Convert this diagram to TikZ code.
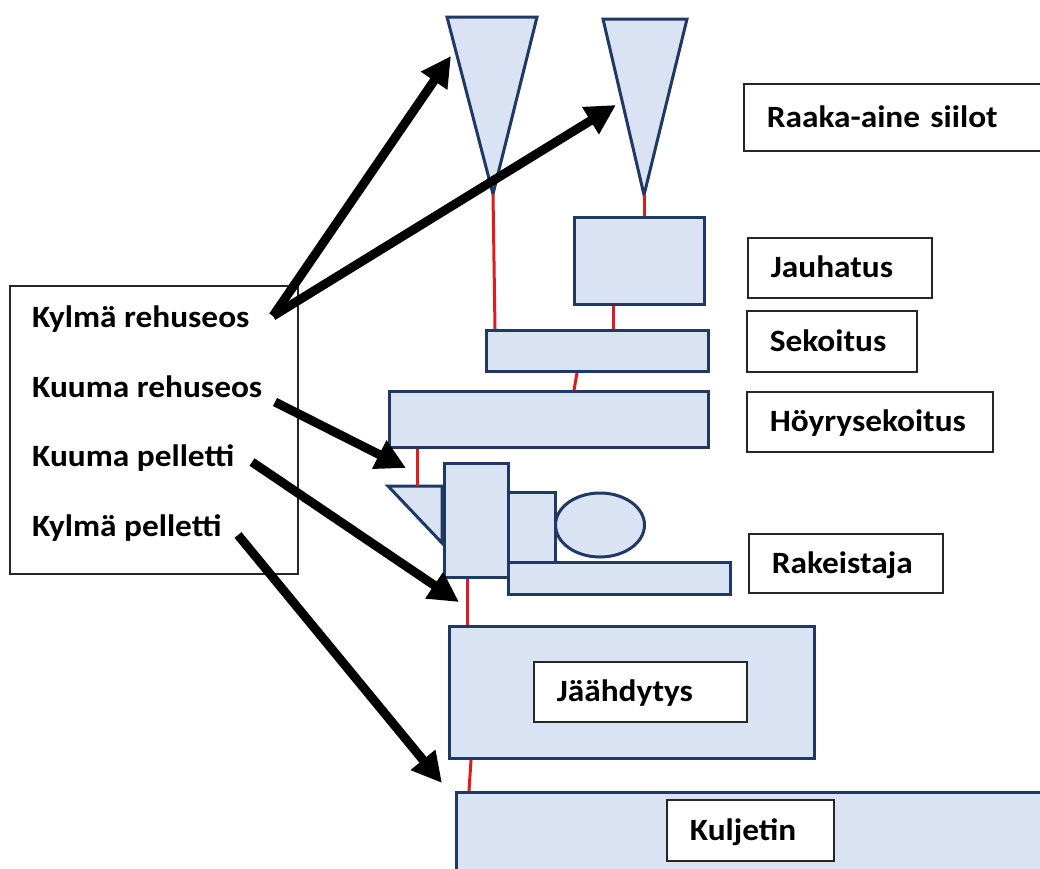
\documentclass[tikz,border=0pt]{standalone}
\usepackage{fontspec}
\setmainfont{Carlito}[FakeStretch=1.075]
\usetikzlibrary{arrows.meta,calc,shapes.geometric}
\definecolor{fillb}{HTML}{DAE3F3}
\definecolor{navy}{HTML}{1F3864}
\definecolor{redl}{HTML}{E01B1B}
\definecolor{labc}{HTML}{262626}
\begin{document}
\begin{tikzpicture}[x=1pt,y=-1pt,
  machine/.style={draw=navy, fill=fillb, line width=3pt, line join=miter},
  mbox/.style={machine, rectangle, inner sep=0pt, anchor=north west},
  lbox/.style={draw=labc, fill=white, line width=1.7pt, rectangle, anchor=north west,
    inner xsep=23pt, inner ysep=0pt, align=left,
    font=\fontsize{31}{36}\selectfont\bfseries, text height=19.5pt, text depth=0pt},
  legtext/.style={anchor=base west, inner sep=0pt, font=\fontsize{31}{36}\selectfont\bfseries},
  legframe/.style={draw=labc, line width=1.5pt, rectangle, inner sep=0pt, anchor=north west},
  redline/.style={draw=redl, line width=3pt},
  flow/.style={draw=black, line width=9pt, -{Triangle[length=30pt,width=30pt]}}
]
\useasboundingbox (0,0) rectangle (1040,868);
\clip (0,0) rectangle (1040,868);

% silos
\coordinate (s1a) at (447,17); \coordinate (s1b) at (537,17); \coordinate (s1c) at (493,194);
\coordinate (s2a) at (603,19); \coordinate (s2b) at (687,19); \coordinate (s2c) at (644,195);
\draw[machine] (s1a) -- (s1b) -- (s1c) -- cycle;
\draw[machine] (s2a) -- (s2b) -- (s2c) -- cycle;

% machines
\node[mbox, minimum width=130pt, minimum height=87pt] (jau) at (573,216) {};
\node[mbox, minimum width=222pt, minimum height=41pt] (sek) at (485,329) {};
\node[mbox, minimum width=319pt, minimum height=56pt] (hoy) at (388,390) {};
\coordinate (fa) at (388,486); \coordinate (fb) at (442,486); \coordinate (fc) at (442,543);
\draw[machine] (fa) -- (fb) -- (fc) -- cycle;
\node[mbox, minimum width=222pt, minimum height=32pt] (base) at (507,561) {};
\node[mbox, minimum width=47pt, minimum height=70pt] (small) at (507,491) {};
\node[mbox, minimum width=64pt, minimum height=114pt] (tall) at (443,462) {};
\node[machine, ellipse, inner sep=0pt, minimum width=89pt, minimum height=64pt] (motor) at (600,525) {};
\node[mbox, minimum width=365pt, minimum height=132pt] (jaa) at (448,625) {};
\node[mbox, minimum width=620pt, minimum height=120pt] (kul) at (455,791) {};

% red connections
\draw[redline] (s1c) -- (495,0 |- sek.north);
\draw[redline] (s2c) -- (644,0 |- jau.north);
\draw[redline] (613,0 |- jau.south) -- (613,0 |- sek.north);
\draw[redline] (577,0 |- sek.south) -- (574,0 |- hoy.north);
\draw[redline] (417,0 |- hoy.south) -- (417,0 |- fa);
\draw[redline] (467,0 |- tall.south) -- (467,0 |- jaa.north);
\draw[redline] (471,0 |- jaa.south) -- (469,0 |- kul.north);

% labels
\node[lbox, minimum width=320pt, minimum height=67pt, text width=274pt] (raaka) at (743,83) {Raaka-aine siilot};
\node[lbox, minimum width=184pt, minimum height=60pt, text width=138pt] (jauL) at (747,237) {Jauhatus};
\node[lbox, minimum width=170pt, minimum height=61pt, text width=124pt] (sekL) at (746,310) {Sekoitus};
\node[lbox, minimum width=246pt, minimum height=60pt, text width=200pt] (hoyL) at (746,391) {Höyrysekoitus};
\node[lbox, minimum width=194pt, minimum height=59pt, text width=148pt] (rakL) at (748,533) {Rakeistaja};
\node[lbox, minimum width=213pt, minimum height=60pt, text width=167pt] (jaaL) at (533,661) {Jäähdytys};
\node[lbox, minimum width=167pt, minimum height=61pt, text width=121pt] (kulL) at (666,799) {Kuljetin};

% legend
\node[legframe, minimum width=288pt, minimum height=288pt] (leg) at (9,285) {};
\node[legtext] (t1) at (32,327) {Kylmä rehuseos};
\node[legtext] (t2) at (32,397) {Kuuma rehuseos};
\node[legtext] (t3) at (32,466) {Kuuma pelletti};
\node[legtext] (t4) at (32,536) {Kylmä pelletti};

% flow arrows
\coordinate (a1) at (273,316);
\coordinate (a3) at (275,402);
\coordinate (a4) at (252,462);
\coordinate (a5) at (238,535);
\coordinate (e1) at (451,56);
\coordinate (e2) at (616,105);
\coordinate (e3) at (406,468);
\coordinate (e4) at (459,602);
\coordinate (e5) at (442,783);
\draw[flow] (a1) -- (e1);
\draw[flow] (a1) -- (e2);
\draw[flow] (a3) -- (e3);
\draw[flow] (a4) -- (e4);
\draw[flow] (a5) -- (e5);
\end{tikzpicture}
\end{document}
